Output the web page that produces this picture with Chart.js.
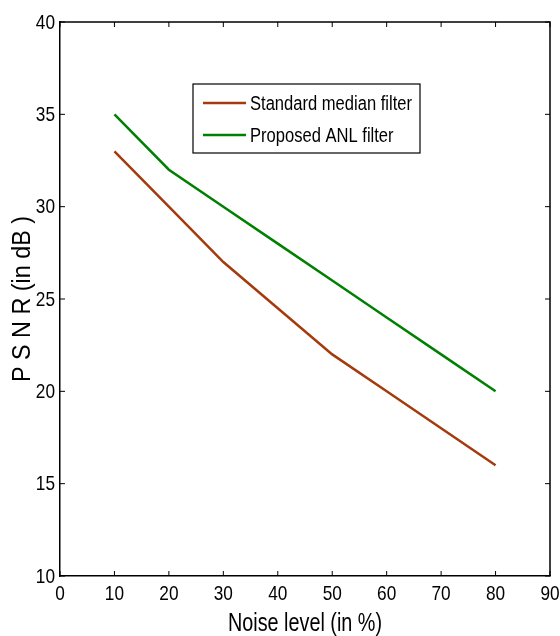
<!DOCTYPE html>
<html>
<head>
<meta charset="utf-8">
<script src="https://cdn.jsdelivr.net/npm/chart.js@4.4.0/dist/chart.umd.min.js"></script>
<style>
    html, body { margin: 0; padding: 0; background: #fff; }
    #wrap { width: 560px; height: 636px; }
</style>
</head>
<body>
<div id="wrap"><canvas id="psnrChart"></canvas></div>
<script>
const noiseLevels = [10, 20, 30, 40, 50, 60, 70, 80];
const medianPsnr = [33, 30, 27, 24.5, 22, 20, 18, 16];
const anlPsnr = [35, 32, 30, 28, 26, 24, 22, 20];
const seriesLabels = ['Standard median filter', 'Proposed ANL filter'];
const seriesColors = ['#a33b0c', '#008000'];
const xTicks = [0, 10, 20, 30, 40, 50, 60, 70, 80, 90];
const yTicks = [10, 15, 20, 25, 30, 35, 40];
const xTitle = 'Noise level (in %)';
const yTitle = 'P S N R (in dB )';

const fontFamily = "'Liberation Sans', Arial, sans-serif";
const narrow = 0.82; // fake Arial Narrow

// draw text squeezed horizontally
function narrowText(ctx, text, x, y, sx, align) {
    ctx.save();
    ctx.translate(x, y);
    ctx.scale(sx, 1);
    ctx.textAlign = align;
    ctx.fillText(text, 0, 0);
    ctx.restore();
}

// MATLAB style box, inward ticks, labels and legend
const boxPlugin = {
    id: 'boxPlugin',
    afterDraw(chart) {
        const { ctx, chartArea: a, scales } = chart;
        ctx.save();
        ctx.strokeStyle = '#000';
        ctx.lineWidth = 1.5;
        ctx.beginPath();
        ctx.moveTo(a.left, a.top);
        ctx.lineTo(a.right, a.top);
        ctx.lineTo(a.right, a.bottom);
        ctx.stroke();
        ctx.lineWidth = 1;
        ctx.beginPath();
        xTicks.forEach(v => {
            const px = scales.x.getPixelForValue(v);
            ctx.moveTo(px, a.bottom); ctx.lineTo(px, a.bottom - 5);
            ctx.moveTo(px, a.top); ctx.lineTo(px, a.top + 5);
        });
        yTicks.forEach(v => {
            const py = scales.y.getPixelForValue(v);
            ctx.moveTo(a.left, py); ctx.lineTo(a.left + 5, py);
            ctx.moveTo(a.right, py); ctx.lineTo(a.right - 5, py);
        });
        ctx.stroke();

        // tick labels
        ctx.fillStyle = '#000';
        ctx.textBaseline = 'middle';
        ctx.font = '21px ' + fontFamily;
        xTicks.forEach(v => {
            narrowText(ctx, String(v), scales.x.getPixelForValue(v), a.bottom + 18, narrow, 'center');
        });
        yTicks.forEach(v => {
            narrowText(ctx, String(v), a.left - 5, scales.y.getPixelForValue(v) + 1, narrow, 'right');
        });

        // axis titles
        ctx.font = '25px ' + fontFamily;
        let w = ctx.measureText(xTitle).width;
        narrowText(ctx, xTitle, (a.left + a.right) / 2, a.bottom + 48, 154 / w, 'center');
        ctx.font = '26px ' + fontFamily;
        w = ctx.measureText(yTitle).width;
        ctx.save();
        ctx.translate(23, (a.top + a.bottom) / 2);
        ctx.rotate(-Math.PI / 2);
        narrowText(ctx, yTitle, 0, 0, 166 / w, 'center');
        ctx.restore();

        // legend box inside the plot
        const lx = a.left + 133, ly = a.top + 62, lw = 227, lh = 69;
        ctx.fillStyle = '#fff';
        ctx.fillRect(lx, ly, lw, lh);
        ctx.strokeStyle = '#000';
        ctx.lineWidth = 1.2;
        ctx.strokeRect(lx, ly, lw, lh);
        ctx.font = '20px ' + fontFamily;
        const legendScale = 162 / ctx.measureText(seriesLabels[0]).width;
        chart.data.datasets.forEach((ds, i) => {
            const cy = ly + 19 + i * 32;
            ctx.strokeStyle = ds.borderColor;
            ctx.lineWidth = 2.5;
            ctx.beginPath();
            ctx.moveTo(lx + 10, cy);
            ctx.lineTo(lx + 53, cy);
            ctx.stroke();
            ctx.fillStyle = '#000';
            narrowText(ctx, ds.label, lx + 57, cy + 1, legendScale, 'left');
        });
        ctx.restore();
    }
};

const ctx = document.getElementById('psnrChart').getContext('2d');
new Chart(ctx, {
    type: 'line',
    data: {
        datasets: [
            {
                label: seriesLabels[0],
                data: noiseLevels.map((x, i) => ({ x: x, y: medianPsnr[i] })),
                borderColor: seriesColors[0],
                borderWidth: 2.5,
                pointRadius: 0,
                tension: 0
            },
            {
                label: seriesLabels[1],
                data: noiseLevels.map((x, i) => ({ x: x, y: anlPsnr[i] })),
                borderColor: seriesColors[1],
                borderWidth: 2.5,
                pointRadius: 0,
                tension: 0
            }
        ]
    },
    options: {
        responsive: true,
        maintainAspectRatio: false,
        animation: false,
        layout: { padding: { top: 22, right: 10, left: 0, bottom: 0 } },
        plugins: {
            legend: { display: false },
            tooltip: { enabled: false }
        },
        scales: {
            x: {
                type: 'linear',
                min: 0,
                max: 90,
                afterBuildTicks: s => { s.ticks = xTicks.map(v => ({ value: v })); },
                afterFit: s => { s.height = 60; s.paddingLeft = 0; s.paddingRight = 0; },
                grid: { display: false, drawTicks: false },
                border: { color: '#000', width: 1.5 },
                ticks: { display: false }
            },
            y: {
                min: 10,
                max: 40,
                afterBuildTicks: s => { s.ticks = yTicks.map(v => ({ value: v })); },
                afterFit: s => { s.width = 60; s.paddingTop = 0; s.paddingBottom = 0; },
                grid: { display: false, drawTicks: false },
                border: { color: '#000', width: 1.5 },
                ticks: { display: false }
            }
        }
    },
    plugins: [boxPlugin]
});
</script>
</body>
</html>
